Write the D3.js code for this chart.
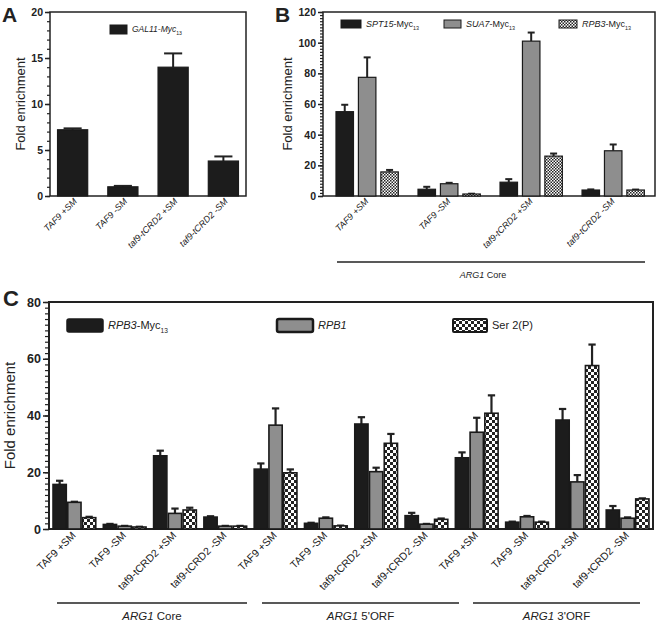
<!DOCTYPE html>
<html>
<head>
<meta charset="utf-8">
<script src="https://cdn.jsdelivr.net/npm/d3@7"></script>
<style>
    body { margin: 0; background: #fff; }
    text { font-family: "Liberation Sans", Arial, sans-serif; fill: #222; }
</style>
</head>
<body>
<script>
// Conditions shared by all three panels
const conditions = ["TAF9 +SM", "TAF9 -SM", "taf9-tCRD2 +SM", "taf9-tCRD2 -SM"];
const regionsC = ["Core", "5'ORF", "3'ORF"];

// Panel A - GAL11-Myc13
const gal11Mean = [7.2, 1.0, 14.0, 3.8];
const gal11Err = [0.15, 0.1, 1.5, 0.5];

// Panel B - ARG1 core
const spt15Mean = [55, 4.4, 9, 3.9];
const spt15Err = [4.5, 1.6, 2, 0.4];
const sua7Mean = [77.4, 8, 101, 29.5];
const sua7Err = [13, 0.6, 5.6, 4.1];
const rpb3BMean = [15.7, 1.3, 26, 3.9];
const rpb3BErr = [1.3, 0.2, 1.7, 0.3];

// Panel C - 12 groups: (Core, 5'ORF, 3'ORF) x conditions
const rpb3CMean = [15.7, 1.6, 25.8, 4.2, 21.1, 2.0, 37, 4.7, 25.1, 2.4, 38.4, 6.7];
const rpb3CErr = [1.3, 0.2, 1.8, 0.3, 2.0, 0.2, 2.4, 1.0, 1.9, 0.2, 3.9, 1.4];
const rpb1Mean = [9.4, 1.0, 5.5, 1.0, 36.6, 3.8, 20.2, 1.7, 34.1, 4.3, 16.6, 3.8];
const rpb1Err = [0.2, 0.1, 1.7, 0.1, 5.9, 0.3, 1.4, 0.1, 5.1, 0.3, 2.4, 0.3];
const ser2Mean = [4.0, 0.7, 6.7, 1.0, 19.8, 1.1, 30.2, 3.4, 40.8, 2.4, 57.6, 10.6];
const ser2Err = [0.3, 0.1, 0.8, 0.1, 1.2, 0.1, 3.3, 0.3, 6.3, 0.2, 7.4, 0.2];

const BLACK = "#1c1c1c";
const GRAY = "#8e8e8e";

const svg = d3.select("body").append("svg")
    .attr("width", 659)
    .attr("height", 625);

// Checkered fills
const defs = svg.append("defs");
const addChecker = (id, cell) => {
    const p = defs.append("pattern")
        .attr("id", id)
        .attr("patternUnits", "userSpaceOnUse")
        .attr("width", cell * 2)
        .attr("height", cell * 2);
    p.append("rect").attr("width", cell * 2).attr("height", cell * 2).attr("fill", "#fff");
    p.append("rect").attr("width", cell).attr("height", cell).attr("fill", "#222");
    p.append("rect").attr("x", cell).attr("y", cell).attr("width", cell).attr("height", cell).attr("fill", "#222");
};
addChecker("checkFine", 1.5);
addChecker("checkCoarse", 3);

const richText = (sel, parts, size) => {
    parts.forEach((part) => {
        const t = sel.append("tspan").text(part.t);
        if (part.i) t.attr("font-style", "italic");
        if (part.sub) t.attr("font-size", size * 0.6).attr("baseline-shift", "sub");
    });
};

const drawPanel = (cfg) => {
    const g = svg.append("g");

    const y = d3.scaleLinear()
        .domain([0, cfg.yMax])
        .range([cfg.bottom, cfg.top]);

    const x = d3.scaleBand()
        .domain(cfg.keys)
        .range([cfg.left, cfg.right])
        .paddingInner(cfg.padInner)
        .paddingOuter(cfg.padOuter)
        .align(cfg.align);

    const xSeries = d3.scaleBand()
        .domain(d3.range(cfg.series.length))
        .range([0, x.bandwidth()])
        .paddingInner(cfg.seriesPad);

    // frame
    g.append("rect")
        .attr("x", cfg.left)
        .attr("y", cfg.top)
        .attr("width", cfg.right - cfg.left)
        .attr("height", cfg.bottom - cfg.top)
        .attr("fill", "none")
        .attr("stroke", "#222")
        .attr("stroke-width", cfg.frameWidth);

    // minor ticks
    g.append("g")
        .attr("transform", "translate(" + cfg.left + ",0)")
        .call(d3.axisLeft(y).tickValues(d3.range(0, cfg.yMax + 0.001, cfg.yMinor)).tickSize(cfg.minorLen).tickFormat(""))
        .call((a) => a.select(".domain").remove())
        .call((a) => a.selectAll("line").attr("stroke", "#222").attr("stroke-width", 1.2));

    // major ticks
    const major = g.append("g")
        .attr("transform", "translate(" + cfg.left + ",0)")
        .call(d3.axisLeft(y).tickValues(d3.range(0, cfg.yMax + 0.001, cfg.yMajor)).tickSize(cfg.majorLen).tickPadding(2))
        .call((a) => a.select(".domain").remove());
    major.selectAll("line").attr("stroke", "#222").attr("stroke-width", 1.5);
    major.selectAll("text")
        .attr("font-family", "Liberation Sans, Arial, sans-serif")
        .attr("font-size", cfg.tickFont)
        .attr("font-weight", "bold")
        .attr("fill", "#222");

    // y title
    g.append("text")
        .attr("transform", "translate(" + cfg.yTitleX + "," + ((cfg.top + cfg.bottom) / 2) + ") rotate(-90)")
        .attr("text-anchor", "middle")
        .attr("font-size", cfg.yTitleFont)
        .text("Fold enrichment");

    // panel letter
    g.append("text")
        .attr("x", cfg.letterX)
        .attr("y", cfg.letterY)
        .attr("font-size", cfg.letterFont)
        .attr("font-weight", "bold")
        .attr("fill", "#111")
        .text(cfg.letter);

    // error bars then bars
    cfg.series.forEach((s, si) => {
        const errG = g.append("g");
        const barG = g.append("g");
        cfg.keys.forEach((key, i) => {
            const x0 = x(key) + xSeries(si);
            const bw = xSeries.bandwidth();
            const cx = x0 + bw / 2;
            const topY = y(s.mean[i] + s.err[i]);
            const capHalf = bw * cfg.capRatio / 2;
            errG.append("line")
                .attr("x1", cx).attr("x2", cx)
                .attr("y1", y(s.mean[i])).attr("y2", topY)
                .attr("stroke", "#222").attr("stroke-width", cfg.errWidth);
            errG.append("line")
                .attr("x1", cx - capHalf).attr("x2", cx + capHalf)
                .attr("y1", topY).attr("y2", topY)
                .attr("stroke", "#222").attr("stroke-width", cfg.errWidth);
            barG.append("rect")
                .attr("x", x0)
                .attr("y", y(s.mean[i]))
                .attr("width", bw)
                .attr("height", y(0) - y(s.mean[i]))
                .attr("fill", s.fill)
                .attr("stroke", "#1a1a1a")
                .attr("stroke-width", cfg.barStroke);
        });
    });

    // x labels
    cfg.keys.forEach((key, i) => {
        const cx = x(key) + x.bandwidth() / 2;
        g.append("text")
            .attr("transform", "translate(" + (cx + cfg.labelDx) + "," + (cfg.bottom + cfg.labelDy) + ") rotate(-45)")
            .attr("text-anchor", "end")
            .attr("font-size", cfg.labelFont)
            .attr("font-style", cfg.labelItalic ? "italic" : "normal")
            .attr("fill", "#222")
            .text(cfg.labels[i]);
    });

    // legend
    cfg.legend.forEach((item) => {
        g.append("rect")
            .attr("x", item.x)
            .attr("y", item.y)
            .attr("width", item.w)
            .attr("height", item.h)
            .attr("rx", item.rx || 0)
            .attr("fill", item.fill)
            .attr("stroke", "#1a1a1a")
            .attr("stroke-width", item.stroke);
        const t = g.append("text")
            .attr("x", item.x + item.w + 5)
            .attr("y", item.y + item.h / 2)
            .attr("dy", "0.35em")
            .attr("font-size", item.font);
        richText(t, item.parts, item.font);
    });

    // region brackets
    (cfg.regions || []).forEach((r) => {
        g.append("line")
            .attr("x1", r.x1).attr("x2", r.x2)
            .attr("y1", r.y).attr("y2", r.y)
            .attr("stroke", "#222").attr("stroke-width", 1.3);
        const t = g.append("text")
            .attr("x", (r.x1 + r.x2) / 2 + (r.dx || 0))
            .attr("y", r.y + r.dyText)
            .attr("text-anchor", "middle")
            .attr("font-size", r.font);
        richText(t, [{t: "ARG1", i: true}, {t: " " + r.name}], r.font);
    });
};

// Panel A
drawPanel({
    letter: "A", letterX: 2, letterY: 22, letterFont: 21,
    left: 50, right: 246, top: 12, bottom: 196,
    yMax: 20, yMajor: 5, yMinor: 1, majorLen: 5, minorLen: 3,
    tickFont: 10.5, yTitleX: 25, yTitleFont: 13, frameWidth: 1.5,
    keys: conditions, labels: conditions,
    padInner: 0.4, padOuter: 0.15, align: 0.5, seriesPad: 0,
    series: [{mean: gal11Mean, err: gal11Err, fill: BLACK}],
    capRatio: 0.6, errWidth: 2, barStroke: 1.2,
    labelDx: 5, labelDy: 6, labelFont: 9, labelItalic: true,
    legend: [
        {x: 110, y: 25, w: 17, h: 9, fill: BLACK, stroke: 1,
         font: 8.5, parts: [{t: "GAL11", i: true}, {t: "-Myc", i: true}, {t: "13", sub: true}]}
    ]
});

// Panel B
drawPanel({
    letter: "B", letterX: 275, letterY: 22, letterFont: 21,
    left: 323, right: 655, top: 12, bottom: 196,
    yMax: 120, yMajor: 20, yMinor: 2, majorLen: 5, minorLen: 3,
    tickFont: 10.5, yTitleX: 292, yTitleFont: 13, frameWidth: 1.5,
    keys: conditions, labels: conditions,
    padInner: 0.24, padOuter: 0.144, align: 0.55, seriesPad: 0.22,
    series: [
        {mean: spt15Mean, err: spt15Err, fill: BLACK},
        {mean: sua7Mean, err: sua7Err, fill: GRAY},
        {mean: rpb3BMean, err: rpb3BErr, fill: "url(#checkFine)"}
    ],
    capRatio: 0.4, errWidth: 2, barStroke: 1.2,
    labelDx: 2, labelDy: 6, labelFont: 9, labelItalic: true,
    legend: [
        {x: 341, y: 20, w: 20, h: 8, fill: BLACK, stroke: 1, font: 9,
         parts: [{t: "SPT15", i: true}, {t: "-Myc"}, {t: "13", sub: true}]},
        {x: 444, y: 20, w: 17, h: 8, fill: GRAY, stroke: 1, font: 9,
         parts: [{t: "SUA7", i: true}, {t: "-Myc"}, {t: "13", sub: true}]},
        {x: 559, y: 20, w: 18, h: 8, fill: "url(#checkFine)", stroke: 1, font: 9,
         parts: [{t: "RPB3", i: true}, {t: "-Myc"}, {t: "13", sub: true}]}
    ],
    regions: [{x1: 337, x2: 645, y: 262, dyText: 16, dx: -8, name: "Core", font: 9}]
});

// Panel C
const keysC = [];
const labelsC = [];
regionsC.forEach((r) => {
    conditions.forEach((c) => {
        keysC.push(r + "|" + c);
        labelsC.push(c);
    });
});

drawPanel({
    letter: "C", letterX: 3, letterY: 306, letterFont: 22,
    left: 49, right: 653, top: 302, bottom: 529,
    yMax: 80, yMajor: 20, yMinor: 2, majorLen: 6, minorLen: 4,
    tickFont: 12.5, yTitleX: 15, yTitleFont: 15, frameWidth: 2,
    keys: keysC, labels: labelsC,
    padInner: 0.15, padOuter: 0.08, align: 0.5, seriesPad: 0.1,
    series: [
        {mean: rpb3CMean, err: rpb3CErr, fill: BLACK},
        {mean: rpb1Mean, err: rpb1Err, fill: GRAY},
        {mean: ser2Mean, err: ser2Err, fill: "url(#checkCoarse)"}
    ],
    capRatio: 0.55, errWidth: 2.2, barStroke: 1.6,
    labelDx: 2, labelDy: 7, labelFont: 10.5, labelItalic: false,
    legend: [
        {x: 67, y: 319, w: 36, h: 13, rx: 2, fill: BLACK, stroke: 1.5, font: 11,
         parts: [{t: "RPB3", i: true}, {t: "-Myc"}, {t: "13", sub: true}]},
        {x: 277, y: 319, w: 36, h: 13, rx: 2, fill: GRAY, stroke: 2.5, font: 11,
         parts: [{t: "RPB1", i: true}]},
        {x: 453, y: 319, w: 34, h: 13, rx: 1, fill: "url(#checkCoarse)", stroke: 2, font: 11,
         parts: [{t: "Ser 2(P)"}]}
    ],
    regions: [
        {x1: 57, x2: 247, y: 603, dyText: 17, name: "Core", font: 11.5},
        {x1: 262, x2: 459, y: 603, dyText: 17, name: "5'ORF", font: 11.5},
        {x1: 473, x2: 640, y: 603, dyText: 17, name: "3'ORF", font: 11.5}
    ]
});
</script>
</body>
</html>
